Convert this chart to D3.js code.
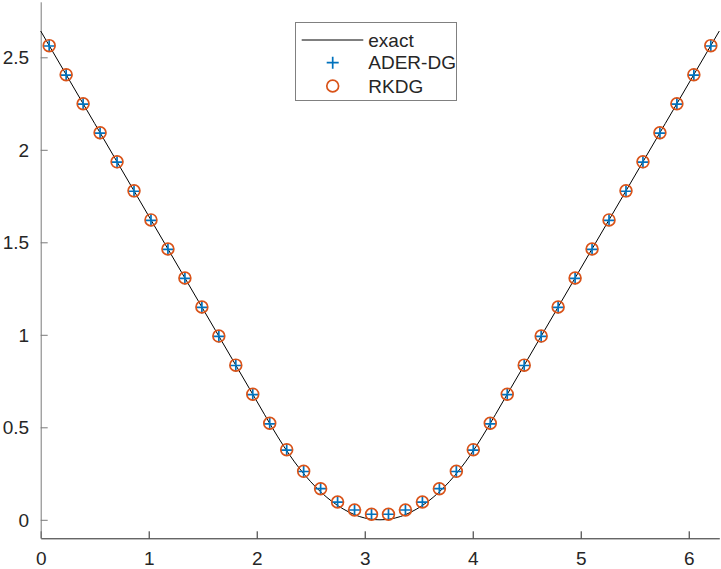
<!DOCTYPE html>
<html>
<head>
<meta charset="utf-8">
<script src="https://cdn.jsdelivr.net/npm/d3@7"></script>
<style>
  html, body { margin: 0; padding: 0; background: #fff; }
  svg { display: block; }
  text { font-family: "Liberation Sans", Arial, Helvetica, sans-serif; fill: #262626; }
</style>
</head>
<body>
<svg id="chart" width="721" height="569"></svg>
<script>
// ---- data ----
const cellX = [0.0785,0.2356,0.3927,0.5498,0.7069,0.8639,1.0210,1.1781,1.3352,1.4923,
               1.6493,1.8064,1.9635,2.1206,2.2777,2.4347,2.5918,2.7489,2.9060,3.0631,
               3.2201,3.3772,3.5343,3.6914,3.8485,4.0055,4.1626,4.3197,4.4768,4.6338,
               4.7909,4.9480,5.1051,5.2622,5.4193,5.5763,5.7334,5.8905,6.0476,6.2046];
const rkdg = [2.563,2.406,2.249,2.092,1.935,1.778,1.621,1.464,1.307,1.150,
              0.993,0.836,0.679,0.522,0.379,0.262,0.168,0.096,0.053,0.030,
              0.030,0.053,0.096,0.168,0.262,0.379,0.522,0.679,0.836,0.993,
              1.150,1.307,1.464,1.621,1.778,1.935,2.092,2.249,2.406,2.563];
const aderdg = [2.561,2.404,2.247,2.090,1.933,1.776,1.619,1.462,1.305,1.148,
                0.991,0.834,0.677,0.519,0.377,0.261,0.168,0.096,0.053,0.030,
                0.030,0.053,0.096,0.168,0.261,0.377,0.519,0.677,0.834,0.991,
                1.148,1.305,1.462,1.619,1.776,1.933,2.090,2.247,2.404,2.561];
const exactX = [0,0.5,1.0,1.5,2.0,2.142,2.25,2.35,2.45,2.55,2.65,2.75,2.85,2.95,3.05,3.1416,
                3.233,3.333,3.433,3.533,3.633,3.733,3.833,3.933,4.033,4.141,4.283,4.783,5.283,5.783,6.2832];
const exactY = [2.642,2.142,1.642,1.142,0.642,0.500,0.398,0.313,0.239,0.175,0.121,0.077,0.043,0.018,0.004,0.000,
                0.004,0.018,0.043,0.077,0.121,0.175,0.239,0.313,0.398,0.500,0.642,1.142,1.642,2.142,2.642];
const xTicks = [0,1,2,3,4,5,6];
const yTicks = [0,0.5,1,1.5,2,2.5];
const yTickLabels = ["0","0.5","1","1.5","2","2.5"];
const legendLabels = ["exact","ADER-DG","RKDG"];

// ---- layout ----
const svg = d3.select("#chart");
const L = 40.7, R = 719.3, T = 1.8, B = 538.3;
const x = d3.scaleLinear().domain([0, 2*Math.PI]).range([L, R]);
const y = d3.scaleLinear().domain([-0.1, 2.8]).range([B, T]);
const blue = "#0072BD", orange = "#D95319";
const fs = 19;

// axes
const xAxis = svg.append("g").attr("transform", `translate(0,${B})`)
  .call(d3.axisBottom(x).tickValues(xTicks).tickSizeInner(-7).tickSizeOuter(0).tickPadding(0).tickFormat(d3.format("d")));
xAxis.select(".domain").attr("stroke", "#262626");
xAxis.selectAll(".tick line").attr("stroke", "#262626");
xAxis.selectAll(".tick text").attr("y", 26.5).attr("dy", null)
  .attr("font-size", fs).attr("font-family", null).style("fill", "#262626");

const yAxis = svg.append("g").attr("transform", `translate(${L},0)`)
  .call(d3.axisLeft(y).tickValues(yTicks).tickSizeInner(-7).tickSizeOuter(0).tickPadding(0)
        .tickFormat((d,i) => yTickLabels[i]));
yAxis.select(".domain").attr("stroke", "#7a7a7a");
yAxis.selectAll(".tick line").attr("stroke", "#7a7a7a");
yAxis.selectAll(".tick text").attr("x", -11.5).attr("dy", "0.35em")
  .attr("font-size", fs).attr("font-family", null).style("fill", "#262626");
svg.selectAll(".domain").attr("stroke-width", 1);

// exact line
const pts = exactX.map((v,i) => [v, exactY[i]]);
svg.append("path").datum(pts)
  .attr("fill", "none").attr("stroke", "#000").attr("stroke-width", 1)
  .attr("d", d3.line().x(d => x(d[0])).y(d => y(d[1])).curve(d3.curveMonotoneX));

// ADER-DG pluses
const ps = 6;
const plus = svg.append("g").attr("stroke", blue).attr("stroke-width", 1.7).attr("fill", "none");
cellX.forEach((cx, i) => {
  const px = x(cx), py = y(aderdg[i]);
  plus.append("path").attr("d", `M${px-ps},${py}H${px+ps}M${px},${py-ps}V${py+ps}`);
});

// RKDG circles
svg.append("g").selectAll("circle").data(cellX).join("circle")
  .attr("cx", d => x(d)).attr("cy", (d,i) => y(rkdg[i])).attr("r", 5.9)
  .attr("fill", "none").attr("stroke", orange).attr("stroke-width", 1.7);

// legend
const lg = svg.append("g");
lg.append("rect").attr("x", 295.5).attr("y", 22.5).attr("width", 161).attr("height", 78)
  .attr("fill", "#fff").attr("stroke", "#808080").attr("stroke-width", 1);
const rowsY = [40, 62.7, 86];
lg.append("line").attr("x1", 301.7).attr("x2", 363.3).attr("y1", rowsY[0]).attr("y2", rowsY[0])
  .attr("stroke", "#000").attr("stroke-width", 1);
const lx = 332.7;
lg.append("path").attr("d", `M${lx-ps},${rowsY[1]}H${lx+ps}M${lx},${rowsY[1]-ps}V${rowsY[1]+ps}`)
  .attr("stroke", blue).attr("stroke-width", 1.7).attr("fill", "none");
lg.append("circle").attr("cx", lx).attr("cy", rowsY[2]).attr("r", 5.9)
  .attr("fill", "none").attr("stroke", orange).attr("stroke-width", 1.7);
legendLabels.forEach((t, i) => {
  lg.append("text").attr("x", 368.3).attr("y", rowsY[i] + 6.5).attr("font-size", fs).text(t);
});
</script>
</body>
</html>
